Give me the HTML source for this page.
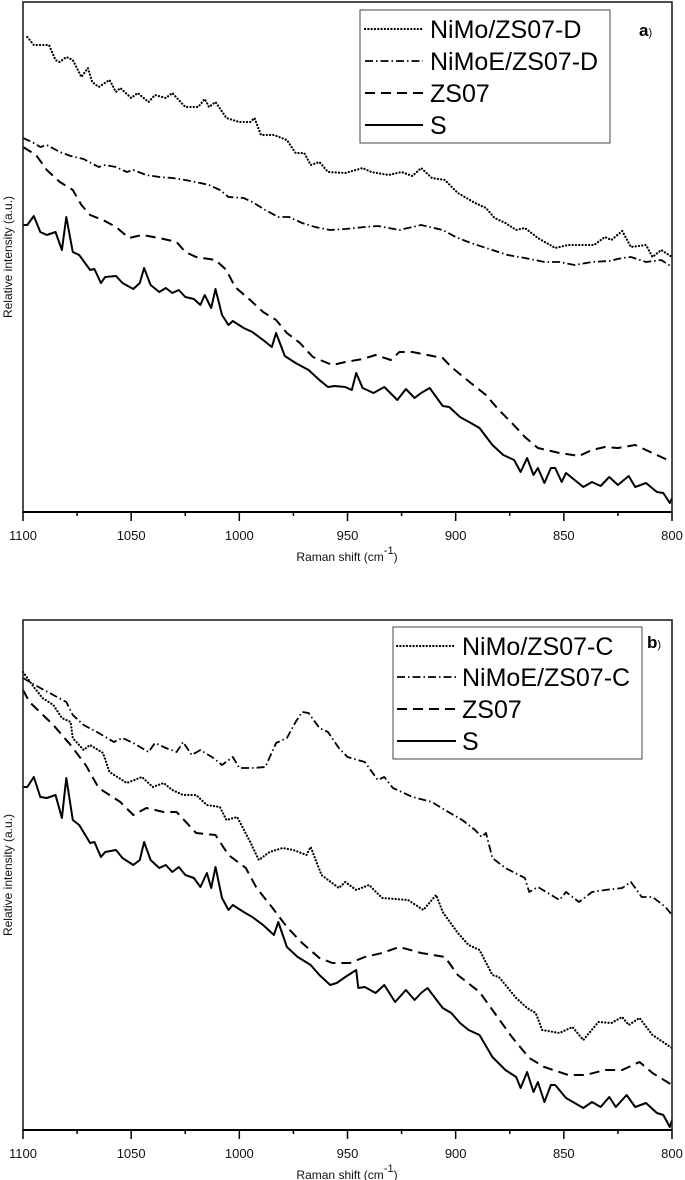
<!DOCTYPE html>
<html><head><meta charset="utf-8"><style>
html,body{margin:0;padding:0;background:#fff;}
svg{display:block;font-family:"Liberation Sans",Arial,sans-serif;}
</style></head><body>
<svg id="fig" width="685" height="1180" viewBox="0 0 685 1180" xmlns="http://www.w3.org/2000/svg"></svg>
<script>
// ---------- Data (x in cm^-1, y relative intensity a.u.) ----------
const xTicks = [1100,1050,1000,950,900,850,800];
const xMinorTicks = [1075,1025,975,925,875,825];

// Panel a
const aNiMoX = [1098,1095,1088,1085,1083,1080,1077,1073,1070,1068,1065,1060,1057,1055,1050,1047,1042,1039,1034,1031,1025,1019,1016,1014,1011,1006,1000,995,993,990,984,978,974,970,967,963,959,951,943,939,931,925,920,916,911,905,899,891,886,882,877,872,868,862,854,848,842,836,831,828,823,819,812,809,805,800];
const aNiMoY = [475,467,467,452,450,455,452,435,444,430,425,432,420,424,414,419,410,417,414,419,405,405,413,405,410,394,390,390,394,377,377,372,359,359,347,350,340,339,344,340,337,340,336,344,334,332,319,309,304,294,289,282,284,274,264,267,267,267,275,272,281,265,267,255,262,255];
const aNiMoEX = [1100,1095,1092,1089,1083,1078,1072,1065,1062,1057,1052,1049,1043,1037,1031,1025,1018,1014,1009,1005,998,994,988,982,977,971,965,958,951,942,936,926,916,906,900,893,883,876,868,859,852,845,837,829,823,819,812,805,800];
const aNiMoEY = [374,369,365,367,360,356,353,345,347,345,340,342,337,335,334,332,329,327,322,315,314,310,302,295,295,289,285,282,283,285,286,282,287,282,275,269,262,257,254,250,250,247,250,251,254,255,250,252,245];
const aZS07X = [1100,1094,1089,1083,1077,1073,1069,1063,1057,1051,1045,1037,1029,1025,1020,1011,1006,1002,995,989,983,978,972,966,957,951,943,937,930,926,920,913,906,902,893,886,880,874,868,862,852,843,837,831,825,817,809,800];
const aZS07Y = [365,357,342,330,322,307,297,292,285,274,277,274,270,260,255,252,242,225,212,200,192,179,169,155,147,150,153,157,152,160,160,157,154,145,129,117,102,89,75,64,59,56,62,65,64,67,59,50];
const aSX = [1100,1098,1095,1092,1089,1085,1082,1080,1077,1074,1069,1067,1064,1062,1057,1054,1049,1046,1044,1041,1037,1034,1031,1028,1025,1021,1018,1016,1013,1011,1008,1005,1003,998,994,989,985,983,979,974,968,963,959,956,951,948,946,943,938,933,927,923,919,916,912,906,903,898,893,889,883,878,873,870,867,864,862,859,856,854,851,849,841,837,833,829,825,820,817,812,807,804,801,800];
const aSY = [287,287,296,280,277,280,262,295,260,257,242,243,229,235,236,229,223,229,244,227,220,224,219,222,215,213,207,217,204,223,197,187,191,184,180,172,165,179,156,149,142,132,125,126,125,122,139,124,119,125,112,123,114,119,124,106,105,95,89,84,67,57,52,40,54,37,44,29,44,44,30,39,25,30,26,35,27,36,25,29,20,19,9,14];

// Panel b
const bNiMoX = [1100,1095,1091,1086,1082,1078,1077,1072,1069,1063,1060,1052,1045,1040,1035,1031,1026,1020,1015,1009,1006,1001,995,991,986,980,975,969,967,962,954,951,946,940,934,922,915,909,906,899,894,889,883,880,872,867,863,860,852,846,841,834,828,823,820,815,809,800];
const bNiMoY = [458,443,432,425,412,408,392,380,385,377,358,347,353,343,347,340,335,335,325,323,310,313,288,270,278,282,280,275,283,255,242,248,240,245,232,230,220,235,218,197,185,180,155,153,132,122,117,100,97,103,90,108,107,113,105,112,95,82];
const bNiMoEX = [1100,1092,1086,1080,1077,1072,1065,1058,1054,1049,1042,1039,1034,1029,1026,1022,1018,1012,1008,1003,1000,994,988,983,978,974,971,968,963,959,954,950,942,936,933,929,920,911,905,897,891,888,886,883,877,868,866,862,852,849,843,837,831,823,819,814,809,803,800];
const bNiMoEY = [452,442,435,428,415,405,397,388,392,387,378,387,382,378,388,375,380,372,365,373,362,362,363,387,392,408,418,417,402,398,382,373,368,350,353,342,333,328,320,310,300,293,297,272,262,252,238,243,230,238,228,238,240,242,248,233,233,223,215];
const bZS07X = [1100,1097,1086,1078,1071,1065,1055,1049,1043,1035,1029,1020,1011,1005,997,992,985,978,971,963,957,949,942,934,926,916,905,899,889,882,874,866,859,848,840,831,823,815,809,800];
const bZS07Y = [440,428,405,385,365,342,328,315,322,318,318,297,295,275,262,242,223,203,187,172,167,167,173,177,183,177,173,155,138,117,93,72,63,55,55,60,60,68,57,45];
const bSX = [1100,1098,1095,1092,1089,1085,1082,1080,1077,1074,1069,1067,1064,1062,1057,1054,1049,1046,1044,1041,1037,1034,1031,1028,1025,1021,1018,1015,1013,1011,1008,1005,1003,998,994,989,984,982,978,973,967,963,958,955,951,946,945,942,937,933,928,923,919,916,913,906,902,898,894,889,883,877,872,870,867,864,862,859,856,854,849,841,837,833,829,826,821,817,812,807,804,801,800];
const bSY = [343,343,353,333,332,335,312,352,310,305,287,288,273,278,280,272,265,270,288,270,262,265,258,263,255,252,243,257,242,263,232,220,225,218,213,205,195,208,183,173,165,155,145,147,153,160,142,143,137,145,128,140,130,137,142,122,117,107,100,95,73,60,53,42,58,38,48,28,45,45,32,22,28,23,33,23,35,23,27,17,15,3,10];

// ---------- Layout ----------
const X0 = 23, X1 = 672;
const panels = [
  {key:'a', top:2, bottom:512, label:'a', legendTop:10, legendLeft:360, legendRight:610, legendTextX:430, lineX0:365, lineX1:423, rows:[29,61,93,125], labelX:639, labelY:36,
   names:['NiMo/ZS07-D','NiMoE/ZS07-D','ZS07','S'],
   series:[[aNiMoX,aNiMoY],[aNiMoEX,aNiMoEY],[aZS07X,aZS07Y],[aSX,aSY]]},
  {key:'b', top:620, bottom:1130, label:'b', legendTop:627, legendLeft:393, legendRight:642, legendTextX:462, lineX0:397, lineX1:456, rows:[646,677,709,741], labelX:647, labelY:648,
   names:['NiMo/ZS07-C','NiMoE/ZS07-C','ZS07','S'],
   series:[[bNiMoX,bNiMoY],[bNiMoEX,bNiMoEY],[bZS07X,bZS07Y],[bSX,bSY]]}
];
const styles = [
  {w:2.2, dash:'0.1 3.2', cap:'round', name:'nimo'},
  {w:1.8, dash:'8 3 1.5 3', cap:'butt', name:'nimoe'},
  {w:2, dash:'10 6', cap:'butt', name:'zs07'},
  {w:2, dash:'', cap:'butt', name:'s'}
];
const YMAX = 510;
function sx(v){ return X0 + (1100 - v) * (X1 - X0) / 300; }
function sy(p, v){ return p.bottom - v * (p.bottom - p.top) / YMAX; }

const NS = 'http://www.w3.org/2000/svg';
const svg = document.getElementById('fig');
function el(tag, attrs, parent){
  const e = document.createElementNS(NS, tag);
  for (const k in attrs) e.setAttribute(k, attrs[k]);
  (parent || svg).appendChild(e);
  return e;
}

panels.forEach(p => {
  const g = el('g', {});
  
  

  p.series.forEach((s, i) => {
    const xs = s[0], ys = s[1];
    let d = '';
    for (let j = 0; j < xs.length; j++) d += (j ? 'L' : 'M') + sx(xs[j]).toFixed(1) + ' ' + sy(p, ys[j]).toFixed(1);
    const st = styles[i];
    const path = el('path', {d:d, fill:'none', stroke:'#000', 'stroke-width':st.w, 'stroke-linecap':st.cap, 'stroke-linejoin':'round'}, g);
    if (st.dash) path.setAttribute('stroke-dasharray', st.dash);
    
    
  });

  const frame = el('rect', {x:X0, y:p.top, width:X1-X0, height:p.bottom-p.top, fill:'none', stroke:'#222', 'stroke-width':1.6}, g);
  
  
  const xaxis = el('line', {x1:X0, x2:X1, y1:p.bottom, y2:p.bottom, stroke:'#000', 'stroke-width':2}, g);
  
  

  xTicks.forEach(t => {
    const tk = el('line', {x1:sx(t), x2:sx(t), y1:p.bottom, y2:p.bottom+9, stroke:'#000', 'stroke-width':1.5}, g);
    
    
    const tl = el('text', {x:sx(t), y:p.bottom+28, 'font-size':13, 'text-anchor':'middle', fill:'#111'}, g);
    tl.textContent = t;
    
    
  });
  xMinorTicks.forEach(t => {
    const tk = el('line', {x1:sx(t), x2:sx(t), y1:p.bottom, y2:p.bottom+4, stroke:'#000', 'stroke-width':1.5}, g);
    
    
  });

  const xt = el('text', {x:347, y:p.bottom+49, 'font-size':12, 'text-anchor':'middle', fill:'#111'}, g);
  xt.innerHTML = 'Raman shift (cm<tspan dy="-7" font-size="11">-1</tspan><tspan dy="7">)</tspan>';
  
  

  const cy = (p.top + p.bottom) / 2;
  const yt = el('text', {x:0, y:0, 'font-size':12, 'text-anchor':'middle', fill:'#111', transform:'translate(12 ' + cy + ') rotate(-90)'}, g);
  yt.textContent = 'Relative intensity (a.u.)';
  
  

  const lg = el('g', {}, g);
  
  
  const lb = el('rect', {x:p.legendLeft, y:p.legendTop, width:p.legendRight-p.legendLeft, height:p.rows[3]+18-p.legendTop, fill:'#fff', stroke:'#444', 'stroke-width':1}, lg);
  
  
  p.names.forEach((n, i) => {
    const st = styles[i];
    const ln = el('line', {x1:p.lineX0, x2:p.lineX1, y1:p.rows[i], y2:p.rows[i], stroke:'#000', 'stroke-width':st.w, 'stroke-linecap':st.cap}, lg);
    if (st.dash) ln.setAttribute('stroke-dasharray', st.dash);
    
    
    const tx = el('text', {x:p.legendTextX, y:p.rows[i]+9, 'font-size':25, fill:'#000'}, lg);
    tx.textContent = n;
    
    
  });

  const pl = el('text', {x:p.labelX, y:p.labelY, 'font-size':17, 'font-weight':'bold', fill:'#000'}, g);
  pl.innerHTML = p.label + '<tspan font-size="11" font-weight="normal">)</tspan>';
  
  
});
</script>
</body></html>
